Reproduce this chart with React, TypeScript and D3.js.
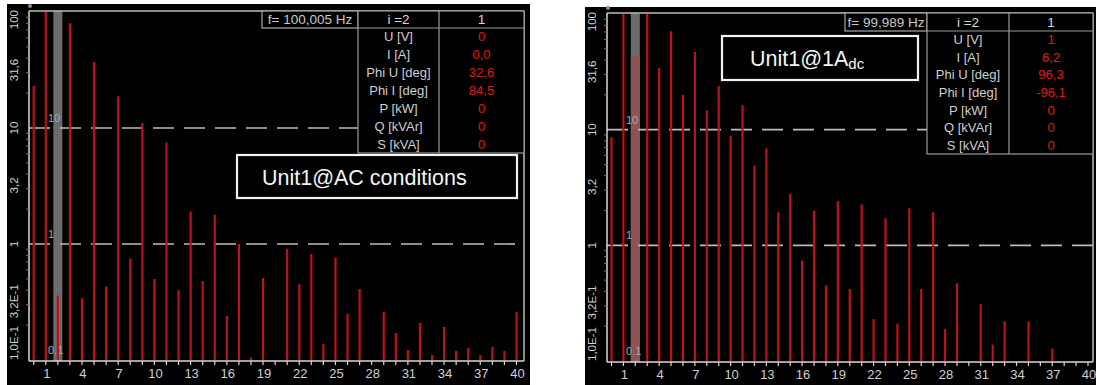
import React from 'react';
import * as d3 from 'd3';

// harmonic order 0 (dc) .. 40
const harmonics = d3.range(0, 41);

// amplitudes (null = no visible line)
const acValues = [
  23, 120, 0.36, 80, 0.34, 37, 0.43, 18.8, 0.75, 11,
  0.5, 7.5, 0.4, 1.9, 0.48, 1.79, 0.24, 1.0, 0.105, 0.51,
  null, 0.91, 0.45, 0.82, 0.137, 0.76, 0.25, 0.41, null, 0.26,
  0.171, 0.122, 0.209, 0.11, 0.193, 0.12, 0.127, 0.11, 0.13, 0.12,
  0.26,
];
const dcValues = [
  8.6, 120, 44, 120, 34, 71, 19.9, 47, 14.7, 23.8,
  8.8, 16.3, 4.9, 6.9, 1.93, 2.8, 0.74, 2.0, 0.45, 2.4,
  0.42, 2.26, 0.23, 1.71, 0.21, 2.09, 0.42, 1.93, 0.19, 0.47,
  null, 0.31, 0.139, 0.22, null, 0.22, null, 0.128, null, null,
  null,
];

const yTickValues = [100, 31.6, 10, 3.2, 1, 0.32, 0.1];
const yTickLabels = ['100', '31,6', '10', '3,2', '1', '3,2E-1', '1,0E-1'];
const gridValues = [10, 1, 0.1];
const gridLabels = ['10', '1', '0.1'];
const xTickLabels = [1, 4, 7, 10, 13, 16, 19, 22, 25, 28, 31, 34, 37, 40];

const rowLabels = ['U [V]', 'I [A]', 'Phi U [deg]', 'Phi I [deg]', 'P [kW]', 'Q [kVAr]', 'S [kVA]'];
const acReadings = ['0', '0,0', '32,6', '84,5', '0', '0', '0'];
const dcReadings = ['1', '6,2', '96,3', '-96,1', '0', '0', '0'];

const selected = 2;
const FONT = "'Liberation Sans', Arial, sans-serif";
const RED = '#c0101a';

const leftGeom = {
  bg: [7, 4, 523, 381], left: 29, right: 524, top: 11, bottom: 361,
  y0: 360, y100: 12, x0: 33.7, x40: 516.5,
  fBox: [262, 358], col2: 439, headBottom: 28, tableBottom: 153,
  box: [237, 155, 280, 43], tint: false,
};
const rightGeom = {
  bg: [585, 7, 511, 378], left: 607, right: 1093, top: 13, bottom: 362,
  y0: 361, y100: 14, x0: 611.5, x40: 1088,
  fBox: [845, 927], col2: 1009, headBottom: 31, tableBottom: 154,
  box: [722, 36, 196, 44], tint: true,
};

function Panel({ g, values, readings, freq, title, sub }) {
  const x = d3.scaleLinear().domain([0, 40]).range([g.x0, g.x40]);
  const y = d3.scaleLog().domain([0.1, 100]).range([g.y0, g.y100]).clamp(true);
  const minor = [];
  [0.1, 1, 10].forEach(d => d3.range(2, 10).forEach(k => minor.push(d * k)));
  const bw = 9;
  const rowH = (g.tableBottom - g.headBottom) / rowLabels.length;
  const [fx1, fx2] = g.fBox;
  const [bx, by, bwid, bh] = g.box;

  return (
    <g fontFamily={FONT}>
      <rect x={g.bg[0]} y={g.bg[1]} width={g.bg[2]} height={g.bg[3]} fill="#000" />
      {/* selected harmonic band */}
      <rect x={x(selected) - bw / 2} y={g.top} width={bw} height={g.bottom - g.top} fill="#6c6c6c" />
      {g.tint && values[selected] != null && (
        <rect x={x(selected) - bw / 2} y={y(values[selected])} width={bw}
          height={g.bottom - y(values[selected])} fill="#8c5454" />
      )}
      {gridValues.map((v, i) => (
        <text key={'gl' + i} x={g.left + 19} y={y(v) - 6} fontSize={11} fill="#a8a8a8">{gridLabels[i]}</text>
      ))}
      {/* dashed grid */}
      {gridValues.slice(0, 2).map((v, i) => (
        <line key={'gd' + i} x1={g.left} x2={g.right} y1={y(v)} y2={y(v)}
          stroke="#bdbdbd" strokeWidth={1.6} strokeDasharray="21 10" />
      ))}
      {/* spectral lines */}
      {harmonics.map((h, i) => values[i] == null || (g.tint && h === selected) ? null : (
        <line key={'b' + h} x1={x(h)} x2={x(h)} y1={g.y0} y2={Math.max(y(values[i]), g.top)}
          stroke={RED} strokeWidth={2.2} />
      ))}
      {/* frame */}
      <line x1={g.left} x2={g.right} y1={g.top} y2={g.top} stroke="#bcbcbc" strokeWidth={1.5} />
      <line x1={g.right} x2={g.right} y1={g.top} y2={g.bottom} stroke="#bcbcbc" strokeWidth={1.5} />
      <line x1={g.left} x2={g.left} y1={g.top} y2={g.bottom} stroke="#d8d8d8" strokeWidth={1.5} />
      <line x1={g.left} x2={g.right} y1={g.bottom} y2={g.bottom} stroke="#d8d8d8" strokeWidth={1.5} />
      <circle cx={g.left + 1} cy={g.top - 5} r={2} fill="#8a8a8a" />
      {minor.map((v, i) => (
        <line key={'m' + i} x1={g.left - 3} x2={g.left} y1={y(v)} y2={y(v)} stroke="#777" strokeWidth={1} />
      ))}
      {/* x ticks */}
      {harmonics.map(h => (
        <line key={'t' + h} x1={x(h)} x2={x(h)} y1={g.bottom} y2={g.bottom + 4} stroke="#d8d8d8" strokeWidth={1.2} />
      ))}
      {xTickLabels.map(h => (
        <text key={'xl' + h} x={x(h) + 1} y={g.bottom + 17} fontSize={13} fill="#cfcfcf" textAnchor="middle">{h}</text>
      ))}
      {/* y tick labels, rotated */}
      {yTickValues.map((v, i) => {
        const last = i === yTickValues.length - 1;
        const anchor = i === 0 ? 'end' : last ? 'start' : 'middle';
        const yy = i === 0 ? g.top - 1 : last ? g.bottom - 1 : y(v);
        return (
          <text key={'yl' + i} transform={`translate(${g.left - 11},${yy}) rotate(-90)`}
            fontSize={11.5} fill="#cfcfcf" textAnchor={anchor}>{yTickLabels[i]}</text>
        );
      })}
      {/* readings table */}
      <rect x={fx1} y={g.top} width={fx2 - fx1} height={g.headBottom - g.top} fill="#000" stroke="#a8a8a8" strokeWidth={1.2} />
      <text x={(fx1 + fx2) / 2} y={g.headBottom - 4} fontSize={13.5} fill="#c8c8c8" textAnchor="middle">{freq}</text>
      <rect x={fx2} y={g.top} width={g.right - fx2} height={g.tableBottom - g.top} fill="#000" stroke="#9a9a9a" strokeWidth={1.2} />
      <line x1={fx2} x2={g.right} y1={g.headBottom} y2={g.headBottom} stroke="#9a9a9a" strokeWidth={1.2} />
      <line x1={g.col2} x2={g.col2} y1={g.top} y2={g.tableBottom} stroke="#9a9a9a" strokeWidth={1.2} />
      <text x={(fx2 + g.col2) / 2} y={g.headBottom - 4} fontSize={13.5} fill="#d8d8d8" textAnchor="middle">i =2</text>
      <text x={(g.col2 + g.right) / 2} y={g.headBottom - 4} fontSize={13.5} fill="#d8d8d8" textAnchor="middle">1</text>
      {rowLabels.map((r, i) => (
        <g key={'r' + i}>
          <text x={(fx2 + g.col2) / 2} y={g.headBottom + rowH * (i + 0.5) + 4.5} fontSize={13} fill="#cfcfcf" textAnchor="middle">{r}</text>
          <text x={(g.col2 + g.right) / 2} y={g.headBottom + rowH * (i + 0.5) + 4.5} fontSize={13} fill="#e01818" textAnchor="middle">{readings[i]}</text>
        </g>
      ))}
      {/* title box */}
      <rect x={bx} y={by} width={bwid} height={bh} fill="#000" stroke="#f2f2f2" strokeWidth={2.2} />
      <text x={bx + (sub ? 28 : 25)} y={by + 30} fontSize={21.5} fill="#f4f4f4">
        {title}
        {sub && <tspan fontSize={15} dy={3}>{sub}</tspan>}
      </text>
    </g>
  );
}

export default function App() {
  return (
    <svg width={1096} height={385} style={{ position: 'absolute', left: 0, top: 0, background: '#fff' }}>
      <rect width={1096} height={385} fill="#fff" />
      <Panel g={leftGeom} values={acValues} readings={acReadings} freq="f= 100,005 Hz" title="Unit1@AC conditions" />
      <Panel g={rightGeom} values={dcValues} readings={dcReadings} freq="f= 99,989 Hz" title="Unit1@1A" sub="dc" />
    </svg>
  );
}
